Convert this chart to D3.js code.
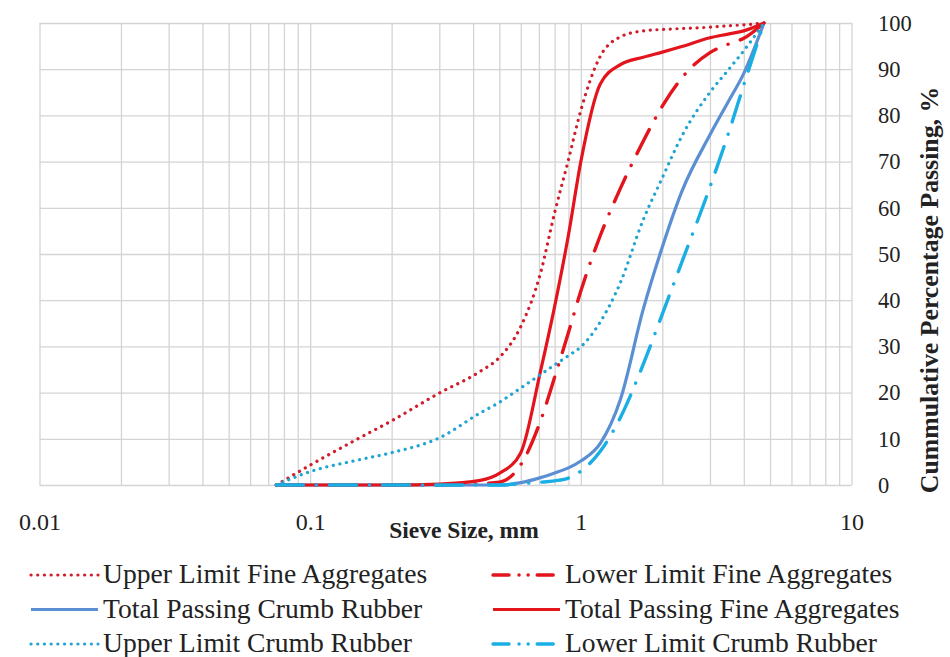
<!DOCTYPE html>
<html>
<head>
<meta charset="utf-8">
<script src="https://cdn.jsdelivr.net/npm/d3@7"></script>
<style>
  html, body { margin: 0; padding: 0; background: #ffffff; }
  svg { display: block; }
  text { font-family: "Liberation Serif", "DejaVu Serif", serif; fill: #222; }
</style>
</head>
<body>
<svg id="chart" width="950" height="657"></svg>
<script>
// Particle sizes (mm) at which every grading curve is sampled
const sieveSizes = [0.075, 0.1, 0.15, 0.2, 0.3, 0.425, 0.5, 0.6, 0.71, 0.8, 0.9, 1.0, 1.18, 1.4, 1.7, 2.0, 2.36, 3.0, 3.5, 4.0, 4.75];

// Cumulative percentage passing for each series
const upperLimitFine   = [0, 4.3, 10.0, 13.9, 19.9, 24.6, 27.6, 34.3, 45.9, 58.9, 70.4, 81.1, 92.8, 97.0, 98.3, 98.6, 98.8, 99.1, 99.4, 99.6, 100];
const lowerLimitFine   = [0, 0, 0, 0, 0, 0.3, 0.6, 4.4, 13.9, 23.3, 33.0, 42.0, 54.0, 64.2, 74.4, 82.0, 88.1, 93.6, 95.4, 96.7, 100];
const totalCrumbRubber = [0, 0, 0, 0, 0, 0, 0, 0.5, 1.6, 2.6, 3.7, 5.2, 9.0, 18.5, 38.0, 51.5, 63.5, 75.8, 82.9, 89.1, 100];
const totalFine        = [0, 0, 0, 0, 0.2, 1.0, 2.5, 7.0, 24.7, 38.6, 54.1, 70.0, 86.8, 91.0, 92.6, 93.7, 94.9, 96.8, 97.6, 98.3, 100];
const upperLimitCrumb  = [0, 2.9, 5.4, 7.0, 10.2, 15.6, 17.9, 21.0, 23.9, 26.0, 28.0, 29.9, 35.3, 43.8, 57.4, 66.5, 75.5, 85.0, 89.8, 94.0, 100];
const lowerLimitCrumb  = [0, 0, 0, 0, 0, 0, 0, 0.3, 0.6, 0.9, 1.5, 3.0, 7.3, 14.6, 26.1, 37.0, 48.2, 64.5, 75.9, 86.6, 100];

// Axis tick labels
const xTickLabels = [0.01, 0.1, 1, 10];
const yTickLabels = [0, 10, 20, 30, 40, 50, 60, 70, 80, 90, 100];

const RED = "#E3141C", RED_DOT = "#D21C2A", BLUE = "#5B8FD3", CYAN = "#19AEE4", CYAN_DOT = "#20A4D2";
const DOTTED = "0.1 6.6", DASHDOT = "27 13 0.1 13";

const series = [
  { name: "Upper Limit Fine Aggregates",   values: upperLimitFine,   color: RED_DOT,  dash: DOTTED,  width: 3.2 },
  { name: "Lower Limit Fine Aggregates",   values: lowerLimitFine,   color: RED,      dash: DASHDOT, width: 3.4 },
  { name: "Total Passing Crumb Rubber",    values: totalCrumbRubber, color: BLUE,     dash: null,    width: 3.2 },
  { name: "Total Passing Fine Aggregates", values: totalFine,        color: RED,      dash: null,    width: 3.2 },
  { name: "Upper Limit Crumb Rubber",      values: upperLimitCrumb,  color: CYAN_DOT, dash: DOTTED,  width: 3.2 },
  { name: "Lower Limit Crumb Rubber",      values: lowerLimitCrumb,  color: CYAN,     dash: DASHDOT, width: 3.4 }
];

const svg = d3.select("#chart");
const plot = { left: 39.5, right: 851.5, top: 23, bottom: 485 };

const x = d3.scaleLog().domain([0.01, 10]).range([plot.left, plot.right]);
const y = d3.scaleLinear().domain([0, 100]).range([plot.bottom, plot.top]);

// Minor log gridlines: 1..9 in every decade, plus the upper bound
const xGridValues = [];
[0.01, 0.1, 1].forEach(d => { for (let k = 1; k <= 9; k++) xGridValues.push(+(d * k).toPrecision(3)); });
xGridValues.push(10);

const grid = svg.append("g").attr("class", "grid");
grid.append("g")
  .attr("transform", `translate(0,${plot.bottom})`)
  .call(d3.axisBottom(x).tickValues(xGridValues).tickSize(-(plot.bottom - plot.top)).tickFormat(""))
  .call(g => g.select(".domain").remove())
  .call(g => g.selectAll("line").attr("stroke", "#D4D4D4").attr("stroke-width", 1.3));
grid.append("g")
  .attr("transform", `translate(${plot.left},0)`)
  .call(d3.axisLeft(y).tickValues(yTickLabels).tickSize(-(plot.right - plot.left)).tickFormat(""))
  .call(g => g.select(".domain").remove())
  .call(g => g.selectAll("line").attr("stroke", "#D4D4D4").attr("stroke-width", 1.3));

// X tick labels
const xAxis = svg.append("g")
  .attr("transform", `translate(0,${plot.bottom})`)
  .call(d3.axisBottom(x).tickValues(xTickLabels).tickSize(0).tickPadding(28).tickFormat(d => String(d)));
xAxis.select(".domain").remove();
xAxis.selectAll("text").attr("font-size", 24).attr("font-family", "Liberation Serif").attr("fill", "#222");

// Y tick labels on the right
const yAxis = svg.append("g")
  .attr("transform", `translate(${plot.right},0)`)
  .call(d3.axisRight(y).tickValues(yTickLabels).tickSize(0).tickPadding(26.5).tickFormat(d3.format("d")));
yAxis.select(".domain").remove();
yAxis.selectAll("text").attr("font-size", 22.5).attr("font-family", "Liberation Serif").attr("fill", "#222");

// Axis titles
svg.append("text")
  .attr("x", 464).attr("y", 538)
  .attr("text-anchor", "middle")
  .attr("font-size", 23.5).attr("font-weight", "bold")
  .text("Sieve Size, mm");

svg.append("text")
  .attr("transform", `translate(938,290) rotate(-90)`)
  .attr("text-anchor", "middle")
  .attr("font-size", 25.8).attr("font-weight", "bold")
  .text("Cummulative Percentage Passing, %");

// Grading curves
const line = d3.line()
  .x((d, i) => x(sieveSizes[i]))
  .y(d => y(d))
  .curve(d3.curveMonotoneX);

const curves = svg.append("g").attr("class", "curves");
series.forEach(s => {
  curves.append("path")
    .datum(s.values)
    .attr("d", line)
    .attr("fill", "none")
    .attr("stroke", s.color)
    .attr("stroke-width", s.width)
    .attr("stroke-linecap", "round")
    .attr("stroke-linejoin", "round")
    .attr("stroke-dasharray", s.dash);
});

// Legend: two columns, three rows
const legend = svg.append("g").attr("class", "legend");
series.forEach((s, k) => {
  const col = k % 2, row = Math.floor(k / 2);
  const x0 = col === 0 ? 31 : 493;
  const yc = 575 + row * 34.5;
  const g = legend.append("g").attr("transform", `translate(${x0},${yc})`);
  g.append("line")
    .attr("x1", 0).attr("x2", 67).attr("y1", 0).attr("y2", 0)
    .attr("stroke", s.color)
    .attr("stroke-width", s.width)
    .attr("stroke-linecap", s.dash ? "round" : "butt")
    .attr("stroke-dasharray", s.dash === DASHDOT ? "16 10 0.1 9 0.1 9 16" : s.dash);
  g.append("text")
    .attr("x", 72).attr("y", 8)
    .attr("font-size", 27.6)
    .text(s.name);
});
</script>
</body>
</html>
